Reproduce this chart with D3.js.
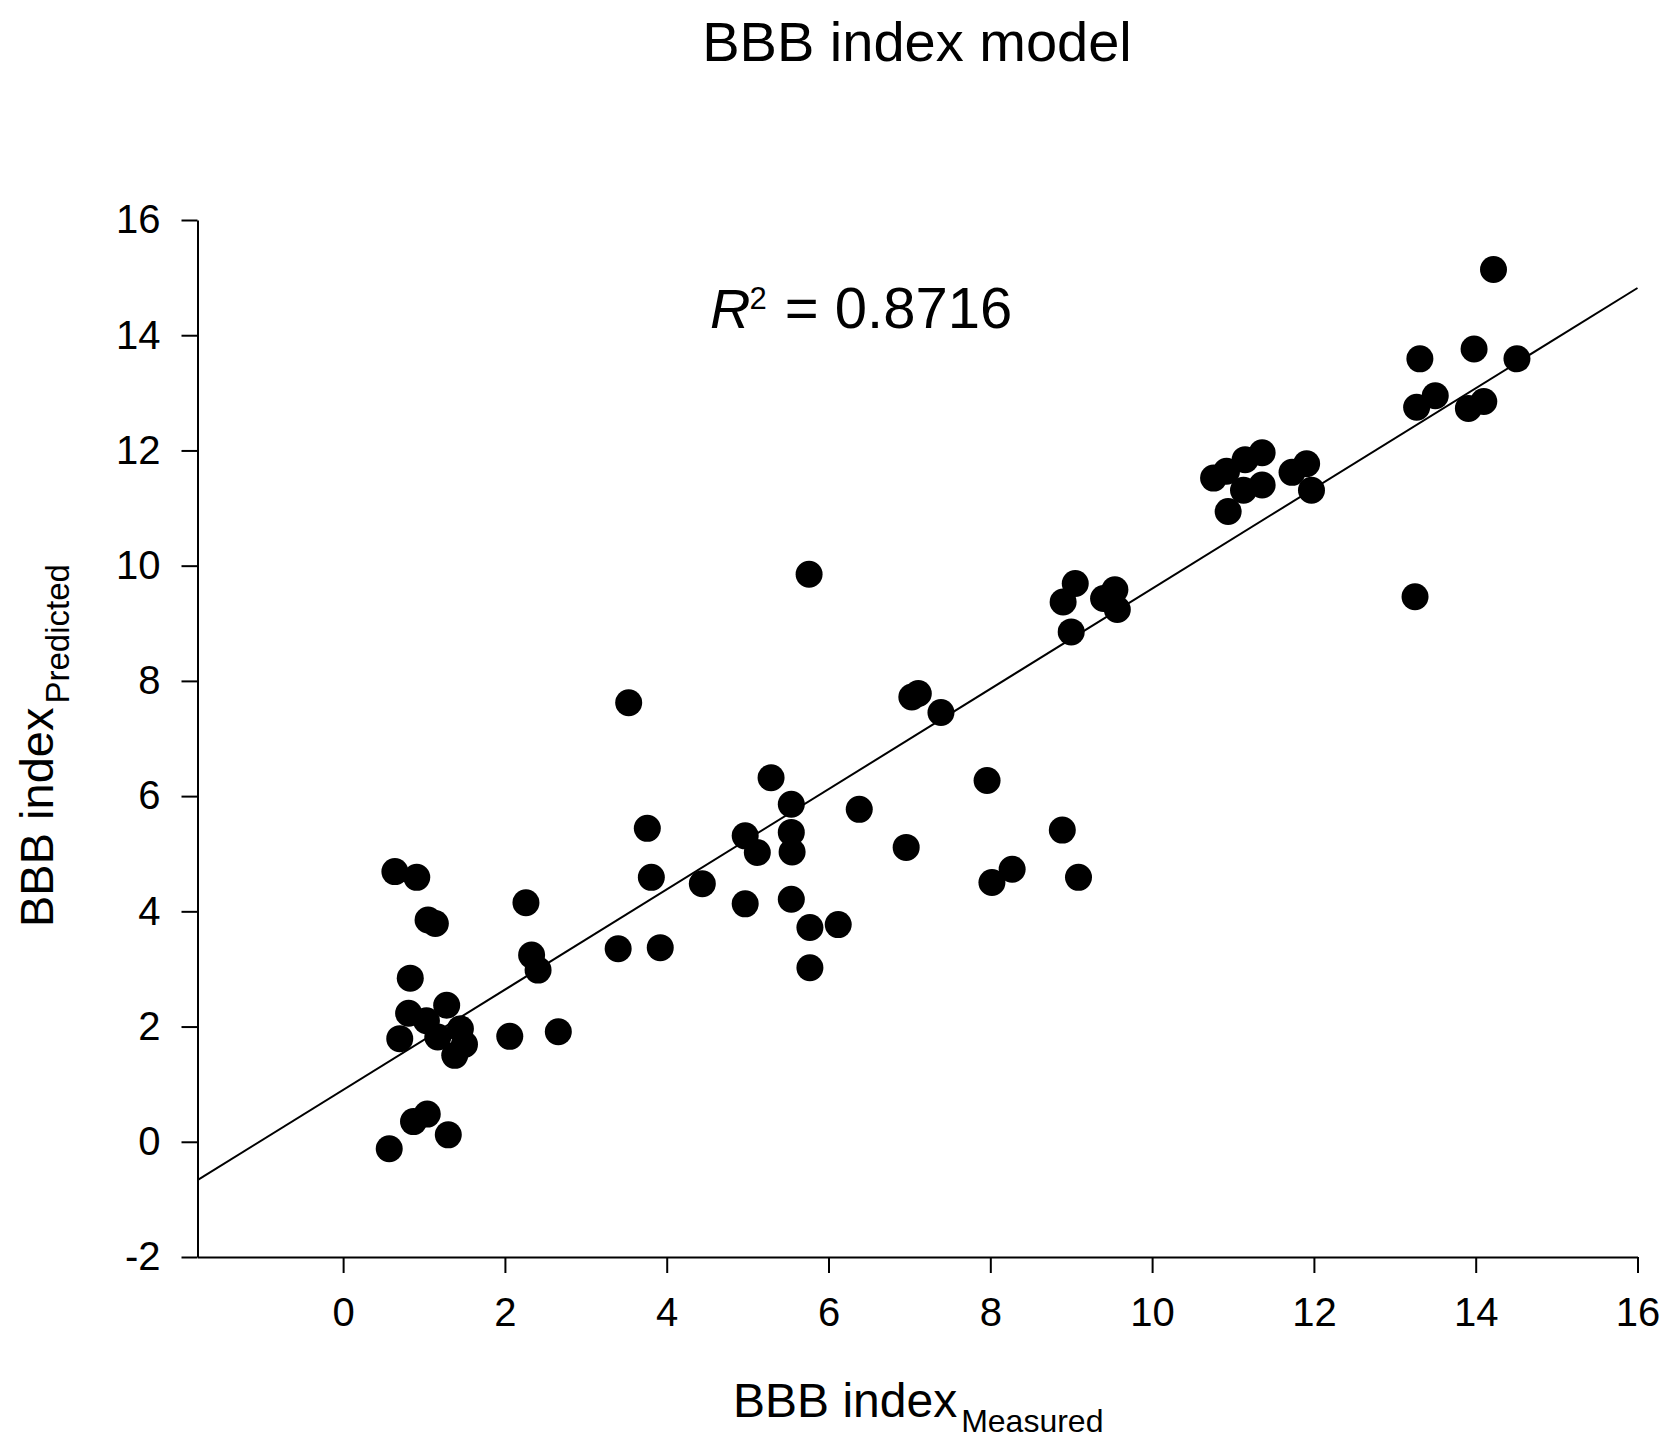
<!DOCTYPE html>
<html>
<head>
<meta charset="utf-8">
<script src="https://cdn.jsdelivr.net/npm/d3@7"></script>
<style>
  html, body { margin: 0; padding: 0; background: #fff; }
  svg { display: block; }
  text { font-family: "Liberation Sans", Arial, sans-serif; fill: #000; }
</style>
</head>
<body>
<svg id="chart" width="1664" height="1448"></svg>
<script>
// ---- Data ----
const measured = [
  0.64, 0.91, 1.05, 1.14, 2.26, 2.33, 2.41, 0.83, 0.81, 1.28, 0.70, 1.03, 1.17, 1.45, 1.50, 1.38, 2.06, 2.66, 0.87, 1.04, 1.30, 0.57,
  3.53, 5.76, 3.40, 3.76, 3.81, 3.92, 4.44, 5.29, 4.97, 5.12, 4.97, 5.54, 5.54, 5.55, 5.54, 5.77, 6.12, 5.77, 6.38, 6.96, 7.03, 7.11,
  7.39, 7.96, 8.02, 8.27, 8.89, 9.09, 8.90, 9.05, 9.00, 9.40, 9.54, 9.57,
  10.76, 10.92, 11.15, 11.36, 11.13, 11.36, 10.94, 11.73, 11.91, 11.97, 13.25, 13.31, 13.98, 14.22, 14.51, 13.27, 13.50, 13.91, 14.10
];
const predicted = [
  4.69, 4.59, 3.85, 3.79, 4.15, 3.24, 2.98, 2.84, 2.23, 2.37, 1.79, 2.10, 1.82, 1.96, 1.69, 1.50, 1.83, 1.91, 0.35, 0.48, 0.12, -0.12,
  7.62, 9.85, 3.35, 5.44, 4.59, 3.37, 4.48, 6.32, 5.31, 5.02, 4.13, 5.86, 5.37, 5.03, 4.21, 3.72, 3.77, 3.02, 5.77, 5.11, 7.72, 7.78,
  7.45, 6.27, 4.50, 4.73, 5.41, 4.59, 9.37, 9.69, 8.85, 9.43, 9.58, 9.24,
  11.52, 11.64, 11.84, 11.96, 11.31, 11.40, 10.94, 11.62, 11.77, 11.31, 9.46, 13.59, 13.76, 15.14, 13.59, 12.75, 12.95, 12.73, 12.85
];
const fitSlope = 0.87;
const fitIntercept = 0.90;
const xDomain = [-1.8, 16];
const yDomain = [-2, 16];
const xTicks = [0, 2, 4, 6, 8, 10, 12, 14, 16];
const yTicks = [-2, 0, 2, 4, 6, 8, 10, 12, 14, 16];
const titleText = "BBB index model";
const r2Text = "0.8716";

// ---- Drawing ----
const svg = d3.select("#chart");
const x = d3.scaleLinear().domain(xDomain).range([197.5, 1637.5]);
const y = d3.scaleLinear().domain(yDomain).range([1257, 220]);

const points = measured.map((m, i) => ({ m, p: predicted[i] }));

// Axes
const fmt = d => String(d);
const xAxis = d3.axisBottom(x).tickValues(xTicks).tickSize(16).tickSizeOuter(0).tickPadding(25).tickFormat(fmt);
const yAxis = d3.axisLeft(y).tickValues(yTicks).tickSize(16).tickSizeOuter(0).tickPadding(21).tickFormat(fmt);

const gx = svg.append("g").attr("transform", `translate(0,${y(yDomain[0])})`).call(xAxis);
const gy = svg.append("g").attr("transform", `translate(${x(xDomain[0])},0)`).call(yAxis);
[gx, gy].forEach(g => {
  g.selectAll("path.domain").attr("stroke", "#000").attr("stroke-width", 2);
  g.selectAll(".tick line").attr("stroke", "#000").attr("stroke-width", 2);
  g.selectAll(".tick text").attr("font-size", 40).attr("font-family", '"Liberation Sans", Arial, sans-serif').attr("fill", "#000");
});

// Regression line
const lineData = xDomain.map(v => ({ m: v, p: fitSlope * v + fitIntercept }));
svg.append("path")
  .datum(lineData)
  .attr("fill", "none")
  .attr("stroke", "#000")
  .attr("stroke-width", 2)
  .attr("d", d3.line().x(d => x(d.m)).y(d => y(d.p)));

// Points
svg.append("g")
  .selectAll("circle")
  .data(points)
  .join("circle")
  .attr("cx", d => x(d.m))
  .attr("cy", d => y(d.p))
  .attr("r", 13.5)
  .attr("fill", "#000");

// Title
svg.append("text")
  .attr("x", 917)
  .attr("y", 61)
  .attr("text-anchor", "middle")
  .attr("font-size", 56)
  .text(titleText);

// R^2 annotation
const r2 = svg.append("text").attr("x", 710).attr("y", 328).attr("font-size", 56);
r2.append("tspan").attr("font-style", "italic").text("R");
r2.append("tspan").attr("font-size", 31).attr("dy", -19).attr("dx", -1).text("2");
r2.append("tspan").attr("dy", 19).attr("font-size", 58).attr("dx", 2).text(" = " + r2Text);

// X axis label
const xl = svg.append("text").attr("x", 733).attr("y", 1417).attr("font-size", 48);
xl.append("tspan").text("BBB index");
xl.append("tspan").attr("font-size", 32).attr("dy", 15).attr("dx", 4).text("Measured");

// Y axis label
const yl = svg.append("text").attr("transform", "translate(53,927) rotate(-90)").attr("font-size", 47);
yl.append("tspan").text("BBB index");
yl.append("tspan").attr("font-size", 33).attr("dy", 16).attr("dx", 4).text("Predicted");
</script>
</body>
</html>
